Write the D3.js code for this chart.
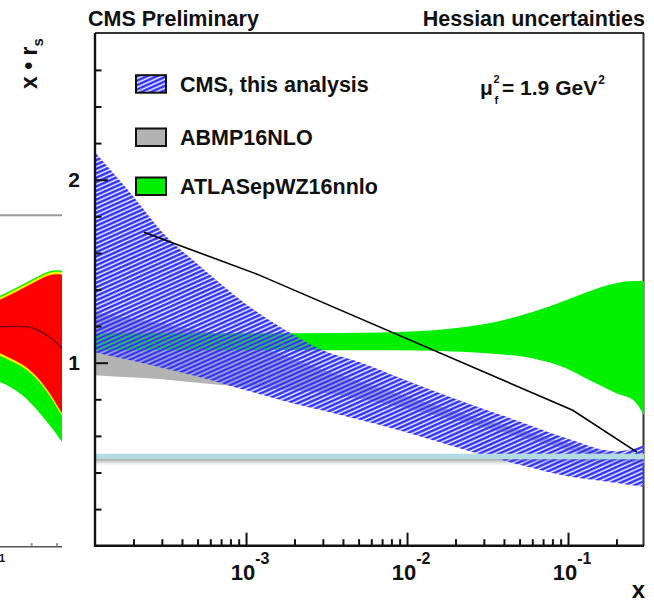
<!DOCTYPE html>
<html><head><meta charset="utf-8">
<script src="https://cdn.jsdelivr.net/npm/d3@7"></script>
<style>
body{margin:0;background:#fff}
svg{display:block}
text{font-family:"Liberation Sans",Arial,Helvetica,sans-serif;fill:#111}
</style>
</head><body>
<svg id="c" width="654" height="603"></svg>
<script>
// ---------------- data ----------------
// CMS (this analysis) band and ABMP16NLO band on a common x grid
const gridX   = [1.153e-4, 2e-4, 3e-4, 5e-4, 1e-3, 2e-3, 3e-3, 5e-3, 1e-2, 2e-2, 5e-2, 0.1, 0.2, 0.2965];
const cmsUp   = [2.150, 1.907, 1.716, 1.539, 1.320, 1.149, 1.068, 1.005, 0.901, 0.802, 0.679, 0.585, 0.516, 0.549];
const cmsLo   = [1.057, 1.009, 0.973, 0.925, 0.849, 0.776, 0.739, 0.689, 0.619, 0.540, 0.442, 0.379, 0.343, 0.322];
const abmpUp  = [1.276, 1.240, 1.214, 1.178, 1.114, 1.019, 0.963, 0.900, 0.815, 0.735, 0.635, 0.560, 0.500, 0.488];
const abmpLo  = [0.932, 0.919, 0.909, 0.890, 0.867, 0.848, 0.836, 0.804, 0.750, 0.685, 0.595, 0.525, 0.470, 0.450];
// ATLASepWZ16nnlo band
const atlasX  = [1.153e-4, 1e-3, 5e-3, 9e-3, 0.0235, 0.0378, 0.0608, 0.098, 0.1245, 0.158, 0.201, 0.255, 0.2965];
const atlasUp = [1.161, 1.161, 1.164, 1.168, 1.196, 1.228, 1.278, 1.342, 1.378, 1.411, 1.436, 1.447, 1.447];
const atlasLo = [1.068, 1.068, 1.068, 1.068, 1.059, 1.046, 1.023, 0.968, 0.922, 0.877, 0.832, 0.795, 0.713];
// black reference line
const lineX = [2.32e-4, 1.17e-3, 0.107, 0.268];
const lineY = [1.713, 1.484, 0.740, 0.511];
// light-blue horizontal level
const refLevel = 0.487;
// axis ticks
const xMajor = [1e-3, 1e-2, 1e-1];
const xExp   = ["-3", "-2", "-1"];
const xMinor = [2e-4,3e-4,4e-4,5e-4,6e-4,7e-4,8e-4,9e-4, 2e-3,3e-3,4e-3,5e-3,6e-3,7e-3,8e-3,9e-3, 2e-2,3e-2,4e-2,5e-2,6e-2,7e-2,8e-2,9e-2, 2e-1];
const yMajor = [1, 2];
const yMinor = [0.2,0.4,0.6,0.8,1.2,1.4,1.6,1.8,2.2,2.4,2.6];
const legendLabels = ["CMS, this analysis", "ABMP16NLO", "ATLASepWZ16nnlo"];
// partial neighbouring panel on the left (fraction of its visible width)
const lpX        = [0, 0.2, 0.4, 0.6, 0.8, 0.9, 1.0];
const lpGreenTop = [1.366, 1.399, 1.434, 1.470, 1.500, 1.505, 1.503];
const lpYelTop   = [1.358, 1.391, 1.426, 1.462, 1.492, 1.497, 1.495];
const lpRedTop   = [1.344, 1.377, 1.412, 1.448, 1.478, 1.483, 1.481];
const lpCentral  = [1.196, 1.198, 1.197, 1.180, 1.139, 1.112, 1.079];
const lpRedLo    = [1.052, 1.019, 0.981, 0.921, 0.833, 0.779, 0.724];
const lpYelLo    = [1.038, 1.005, 0.967, 0.907, 0.819, 0.765, 0.710];
const lpGreenLo  = [0.895, 0.861, 0.811, 0.740, 0.658, 0.615, 0.566];
const lpGrayLevel = 1.806;
const lpMinorTicks = [0.51, 0.92];

// ---------------- drawing ----------------
const svg = d3.select("#c");
const x = d3.scaleLog().domain([1.153e-4, 0.2965]).range([95, 644]);
const y = d3.scaleLinear().domain([0, 2.8]).range([545.7, 33.3]);
const lp = d3.scaleLinear().domain([0, 1]).range([0, 62]);

const defs = svg.append("defs");
const pat = defs.append("pattern").attr("id","hatch").attr("patternUnits","userSpaceOnUse")
  .attr("width",4).attr("height",4).attr("patternTransform","rotate(-24)");
pat.append("rect").attr("x",0).attr("y",0).attr("width",4).attr("height",2.9).attr("fill","#5858ff");
pat.append("rect").attr("x",0).attr("y",1.1).attr("width",4).attr("height",0.8).attr("fill","#1616e6");
const grad = defs.append("linearGradient").attr("id","shadow").attr("x1",0).attr("y1",0).attr("x2",0).attr("y2",1);
grad.append("stop").attr("offset","0%").attr("stop-color","#999").attr("stop-opacity",0.95);
grad.append("stop").attr("offset","100%").attr("stop-color","#ffffff").attr("stop-opacity",0);
defs.append("clipPath").attr("id","plotclip").append("rect")
  .attr("x",95).attr("y",33).attr("width",549).attr("height",513);

// ---- left partial panel ----
const lpArea = (top, bot) => d3.area().x((d,i)=>lp(lpX[i])).y0((d,i)=>y(bot[i])).y1((d,i)=>y(top[i])).curve(d3.curveMonotoneX)(lpX);
const lpg = svg.append("g");
lpg.append("path").attr("d", lpArea(lpGreenTop, lpGreenLo)).attr("fill","#00f000");
lpg.append("path").attr("d", lpArea(lpYelTop, lpYelLo)).attr("fill","#f4f400");
lpg.append("path").attr("d", lpArea(lpRedTop, lpRedLo)).attr("fill","#ff0000");
lpg.append("path").attr("d", d3.line().x((d,i)=>lp(lpX[i])).y((d,i)=>y(lpCentral[i])).curve(d3.curveMonotoneX)(lpX))
  .attr("fill","none").attr("stroke","#7a0000").attr("stroke-width",1.4);
lpg.append("line").attr("x1",lp(0)).attr("x2",lp(1)).attr("y1",y(lpGrayLevel)).attr("y2",y(lpGrayLevel))
  .attr("stroke","#9a9a9a").attr("stroke-width",2);
lpg.append("line").attr("x1",lp(0)).attr("x2",lp(1)).attr("y1",y(0)+1).attr("y2",y(0)+1)
  .attr("stroke","#555").attr("stroke-width",1.6);
lpg.selectAll("line.lt").data(lpMinorTicks).join("line").attr("class","lt")
  .attr("x1",d=>lp(d)).attr("x2",d=>lp(d)).attr("y1",y(0)).attr("y2",y(0)-2.5)
  .attr("stroke","#888").attr("stroke-width",2);
lpg.append("text").attr("x",lp(0)+5).attr("y",562).attr("text-anchor","end")
  .style("font-size","11px").style("font-weight","bold").text("1");

// ---- frame top & right ----
svg.append("line").attr("x1",95).attr("x2",644).attr("y1",33).attr("y2",33).attr("stroke","#333").attr("stroke-width",2);
svg.append("line").attr("x1",643.5).attr("x2",643.5).attr("y1",33).attr("y2",546).attr("stroke","#333").attr("stroke-width",2);

// ---- bands ----
const plot = svg.append("g").attr("clip-path","url(#plotclip)");
const band = (xs, up, lo) => d3.area().x((d,i)=>x(xs[i])).y0((d,i)=>y(lo[i])).y1((d,i)=>y(up[i])).curve(d3.curveMonotoneX)(xs);
plot.append("path").attr("d", band(gridX, abmpUp, abmpLo)).attr("fill","#b3b3b3");
plot.append("path").attr("d", band(atlasX, atlasUp, atlasLo)).attr("fill","#00f000");
plot.append("rect").attr("x",x.range()[0]).attr("width",x.range()[1]-x.range()[0])
  .attr("y",y(refLevel)+2.5).attr("height",8).attr("fill","url(#shadow)");
plot.append("path").attr("d", band(gridX, cmsUp, cmsLo)).attr("fill","url(#hatch)");
plot.append("line").attr("x1",x.range()[0]).attr("x2",x.range()[1]).attr("y1",y(refLevel)).attr("y2",y(refLevel))
  .attr("stroke","#b3dce2").attr("stroke-width",5.5);
plot.append("path").attr("d", d3.line().x((d,i)=>x(lineX[i])).y((d,i)=>y(lineY[i]))(lineX))
  .attr("fill","none").attr("stroke","#000").attr("stroke-width",1.6);

// ---- axes ----
const xMajAx = svg.append("g").attr("transform",`translate(0,${y(0)})`)
  .call(d3.axisBottom(x).tickValues(xMajor).tickSize(-13).tickFormat(""));
const xMinAx = svg.append("g").attr("transform",`translate(0,${y(0)})`)
  .call(d3.axisBottom(x).tickValues(xMinor).tickSize(-6.5).tickFormat(""));
xMinAx.select(".domain").remove();
xMajAx.select(".domain").attr("d",`M94,0H644`);
const yMajAx = svg.append("g").attr("transform",`translate(${x.range()[0]},0)`)
  .call(d3.axisLeft(y).tickValues(yMajor).tickSize(-13).tickPadding(15).tickFormat(d3.format("d")));
const yMinAx = svg.append("g").attr("transform",`translate(${x.range()[0]},0)`)
  .call(d3.axisLeft(y).tickValues(yMinor).tickSize(-6.5).tickFormat(""));
yMinAx.select(".domain").remove();
yMajAx.select(".domain").attr("d",`M0,33H0V547`);
svg.selectAll(".domain").attr("stroke","#111").attr("stroke-width",2.4);
svg.selectAll(".tick line").attr("stroke","#111").attr("stroke-width",2);
yMajAx.selectAll(".tick text").style("font-size","21px").style("font-weight","bold").attr("fill","#111");

// x tick labels 10^n
const xl = svg.append("g").selectAll("text").data(xMajor).join("text")
  .attr("x",d=>x(d)+4).attr("y",580).attr("text-anchor","middle")
  .style("font-weight","bold");
xl.append("tspan").style("font-size","22px").text("10");
xl.append("tspan").style("font-size","16px").attr("dy",-16).text((d,i)=>xExp[i]);

// axis titles
svg.append("text").attr("x",645).attr("y",598).attr("text-anchor","end")
  .style("font-size","24px").style("font-weight","bold").text("x");
const yt = svg.append("text").attr("transform","translate(37,89) rotate(-90)")
  .style("font-weight","bold");
yt.append("tspan").style("font-size","23px").text("x \u2022 r");
yt.append("tspan").style("font-size","15px").attr("dy",6).text("s");

// header texts
svg.append("text").attr("x",88).attr("y",26).style("font-size","21.5px").style("font-weight","bold").text("CMS Preliminary");
svg.append("text").attr("x",645).attr("y",26).attr("text-anchor","end").style("font-size","21.5px").style("font-weight","bold").text("Hessian uncertainties");

// legend
const legFills = ["url(#hatch)", "#b3b3b3", "#00f000"];
const legBase = [91.7, 145, 194];
const lg = svg.append("g");
legendLabels.forEach((t,i)=>{
  lg.append("rect").attr("x",136).attr("y",legBase[i]-16.5).attr("width",30).attr("height",17.5)
    .attr("fill","#fff").attr("stroke","none");
  lg.append("rect").attr("x",136).attr("y",legBase[i]-16.5).attr("width",30).attr("height",17.5)
    .attr("fill",legFills[i]).attr("stroke","#111").attr("stroke-width",2);
  lg.append("text").attr("x",180).attr("y",legBase[i]).style("font-size","21.5px").style("font-weight","bold").text(t);
});

// mu_f^2 label
const mu = svg.append("g").style("font-weight","bold");
mu.append("text").attr("x",480).attr("y",95).style("font-size","21px").text("\u03bc");
mu.append("text").attr("x",493.5).attr("y",83).style("font-size","11px").text("2");
mu.append("text").attr("x",494.5).attr("y",104).style("font-size","11px").text("f");
const eq = mu.append("text").attr("x",502).attr("y",95).style("font-size","21px").text("= 1.9 GeV");
mu.append("text").attr("x",502 + eq.node().getComputedTextLength() + 1).attr("y",84).style("font-size","12px").text("2");
</script>
</body></html>
